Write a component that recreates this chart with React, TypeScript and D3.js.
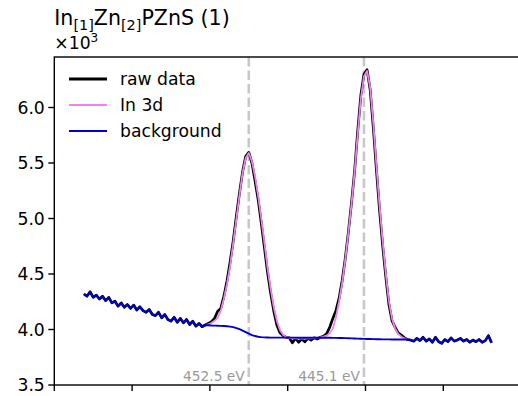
import React from "react";
import * as d3 from "d3";

// Binding-energy grid (eV), 0.2 eV steps from 463.1 down to 436.9
const energies: number[] = d3.range(0, 132).map((i) => +(463.1 - 0.2 * i).toFixed(1));

// Raw counts, in order of energies
const rawLeft = [4320, 4300, 4340, 4290, 4310, 4275, 4300, 4260, 4290, 4240, 4255, 4210, 4240, 4200, 4225, 4190, 4220, 4175, 4205, 4170,
  4155, 4180, 4135, 4125, 4155, 4105, 4135, 4090, 4075, 4110, 4065, 4100, 4060, 4090, 4045, 4075, 4030, 4055, 4025, 4040];
const rawPeak1 = [4055, 4070, 4100, 4165, 4190, 4300, 4440, 4610, 4800, 5020, 5230, 5420, 5560, 5595, 5500, 5340, 5170, 4960, 4740, 4520,
  4330, 4170, 4040, 3970, 3945, 3930];
const rawValley = [3925, 3880, 3920, 3885, 3915, 3890, 3920, 3905, 3925, 3915, 3930];
const rawPeak2 = [3940, 3960, 4020, 4100, 4170, 4280, 4440, 4640, 4880, 5140, 5430, 5790, 6110, 6300, 6340, 6160, 5820, 5440, 5080, 4760,
  4480, 4230, 4080, 4020, 3970, 3950, 3925, 3910];
const rawRight = [3905, 3895, 3920, 3900, 3930, 3895, 3915, 3885, 3930, 3890, 3875, 3910, 3890, 3925, 3895, 3905, 3920, 3895, 3910, 3885,
  3905, 3890, 3910, 3885, 3900, 3945, 3880];
const rawData = [...rawLeft, ...rawPeak1, ...rawValley, ...rawPeak2, ...rawRight];

// Fit region: 455.3 eV .. 442.3 eV (energy indices 39..104)
const fitStart = 39;
const in3dFit = [4040, 4045, 4058, 4078, 4105, 4170, 4280, 4410, 4575, 4780, 4995, 5210, 5410, 5545, 5590, 5515, 5380, 5205, 5000, 4785,
  4560, 4370, 4205, 4080, 3995, 3952, 3932,
  3924, 3921, 3920, 3919, 3919, 3919, 3920, 3921, 3923, 3926, 3930,
  3935, 3945, 3965, 4010, 4110, 4250, 4420, 4630, 4870, 5130, 5420, 5760, 6080, 6280, 6330, 6180, 5860, 5480, 5120, 4800,
  4510, 4260, 4100, 4010, 3960, 3935, 3920, 3912];
const backgroundFit = [4040, 4038, 4036, 4035, 4034, 4033, 4031, 4029, 4026, 4021, 4013, 4003, 3990, 3976, 3962, 3950, 3941, 3935, 3931, 3929,
  3928, 3927, 3927, 3927, 3927, 3927, 3927,
  3927, 3927, 3927, 3926, 3926, 3926, 3926, 3926, 3926, 3926, 3926,
  3926, 3926, 3926, 3925, 3925, 3924, 3923, 3922, 3921, 3920, 3919, 3918, 3917, 3916, 3915, 3914, 3913, 3912, 3912, 3911,
  3911, 3911, 3910, 3910, 3910, 3910, 3910, 3910];

const peakLines = [452.5, 445.1];
const xTicks = [465, 460, 455, 450, 445, 440];
const yTicks = [3500, 4000, 4500, 5000, 5500, 6000];

const legendItems = [
  { label: "raw data", color: "#000000", width: 2.8 },
  { label: "In 3d", color: "#ee82ee", width: 1.8 },
  { label: "background", color: "#0000cd", width: 1.8 },
];

export default function App() {
  const W = 518, H = 396;
  const left = 54.3, top = 57, bottom = 385;
  const x = d3.scaleLinear().domain([465, 435]).range([left, left + 30 * 15.56]);
  const y = d3.scaleLinear().domain([3500, 6455]).range([bottom, top]);
  const right = x(435);

  type P = { e: number; v: number };
  const line = d3.line<P>().x((d) => x(d.e)).y((d) => y(d.v));

  const rawPts: P[] = energies.map((e, i) => ({ e, v: rawData[i] }));
  const fitPts: P[] = in3dFit.map((v, i) => ({ e: energies[fitStart + i], v }));
  const fitEnd = fitStart + backgroundFit.length;
  const bgPts: P[] = energies.map((e, i) => ({
    e,
    v: i >= fitStart && i < fitEnd ? backgroundFit[i - fitStart] : rawData[i],
  }));

  const font = "DejaVu Sans, sans-serif";

  return (
    <svg width={W} height={H} style={{ position: "absolute", left: 0, top: 0, background: "#fff" }} fontFamily={font}>
      <defs>
        <clipPath id="plot">
          <rect x={left} y={top} width={right - left} height={bottom - top} />
        </clipPath>
      </defs>
      <rect x={0} y={0} width={W} height={H} fill="#fff" />

      {/* peak position markers */}
      {peakLines.map((p) => (
        <g key={p}>
          <line x1={x(p)} x2={x(p)} y1={top} y2={bottom} stroke="#c8c8c8" strokeWidth={2.6} strokeDasharray="9.5,4" />
          <text x={x(p) - 4} y={381} textAnchor="end" fontSize={13.8} fill="#999999">
            {p.toFixed(1)} eV
          </text>
        </g>
      ))}

      <g clipPath="url(#plot)" fill="none" strokeLinejoin="round">
        <path d={line(rawPts) || ""} stroke="#000" strokeWidth={2.7} />
        <path d={line(fitPts) || ""} stroke="#ee82ee" strokeWidth={1.8} />
        <path d={line(bgPts) || ""} stroke="#0000cd" strokeWidth={1.9} />
      </g>

      {/* spines */}
      <rect x={left} y={top} width={right - left} height={bottom - top} fill="none" stroke="#000" strokeWidth={1.4} />

      {/* y ticks */}
      {yTicks.map((t) => (
        <g key={t}>
          <line x1={left - 6} x2={left} y1={y(t)} y2={y(t)} stroke="#000" strokeWidth={1.4} />
          <text x={left - 9.5} y={y(t)} dy="0.35em" textAnchor="end" fontSize={17.2} fill="#000">
            {(t / 1000).toFixed(1)}
          </text>
        </g>
      ))}
      {/* x ticks */}
      {xTicks.map((t) => (
        <line key={t} x1={x(t)} x2={x(t)} y1={bottom} y2={bottom + 6} stroke="#000" strokeWidth={1.4} />
      ))}

      {/* offset text */}
      <text x={left} y={49} fontSize={17.2} fill="#000">
        ×10<tspan dy={-7} fontSize={12}>3</tspan>
      </text>

      {/* title */}
      <text x={left} y={25} fontSize={20.6} fill="#000">
        In<tspan dy={5} fontSize={14.4}>[1]</tspan>
        <tspan dy={-5}>Zn</tspan>
        <tspan dy={5} fontSize={14.4}>[2]</tspan>
        <tspan dy={-5}>PZnS (1)</tspan>
      </text>

      {/* legend */}
      {legendItems.map((it, i) => (
        <g key={it.label} transform={`translate(0, ${79 + i * 26})`}>
          <line x1={69} x2={107} y1={0} y2={0} stroke={it.color} strokeWidth={it.width} />
          <text x={120} y={0} dy="0.35em" fontSize={17.2} fill="#000">
            {it.label}
          </text>
        </g>
      ))}
    </svg>
  );
}
